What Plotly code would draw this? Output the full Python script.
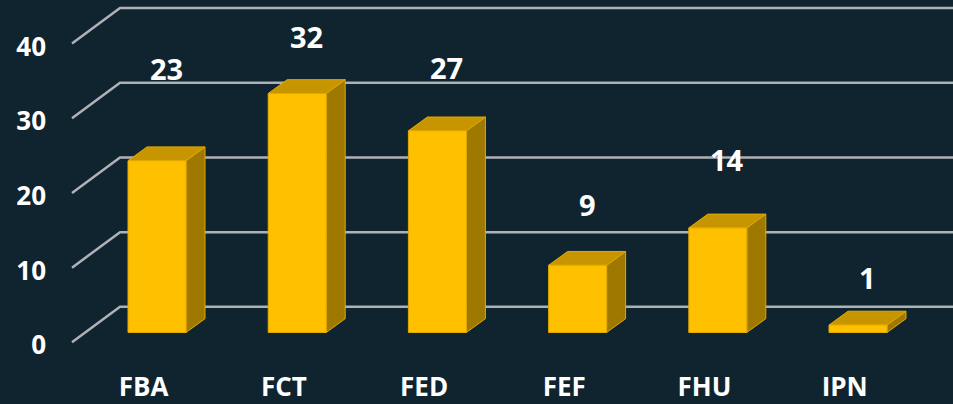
import plotly.graph_objects as go

# ---- data ----
categories = ["FBA", "FCT", "FED", "FEF", "FHU", "IPN"]
values = [23, 32, 27, 9, 14, 1]
y_ticks = [0, 10, 20, 30, 40]

# ---- style / geometry (pixels -> data units) ----
BG = "#10242F"
FRONT = "#FFC000"
TOP = "#C79500"
SIDE = "#9F7800"
EDGE = "#E2A900"
GRID = "#AEB2B6"
FONT = "Open Sans"

px_per_x = 140.2          # pixels per category step
px_per_v = 7.57           # pixels per value unit
bar_w = 58 / px_per_x     # front-face width
dx = 19 / px_per_x        # depth offset (x)
dy = 14 / px_per_v        # depth offset (value units)
grid_front_off = -10 / px_per_v
grid_back_off = 26 / px_per_v
grid_front_x = (72 - 157) / px_per_x
grid_back_x = (120 - 157) / px_per_x
tick_label_off = -3 / px_per_v
label_lift = [92, 57, 63, 61, 68, 48]   # value-label position above bar (px)

L, R, T, B = 47, 0, 0, 30
W, H = 953, 404
xmin = -(157 - L) / px_per_x
xmax = xmin + (W - L - R) / px_per_x
ymax = 337 / px_per_v
ymin = ymax - (H - T - B) / px_per_v

fig = go.Figure()

# gridlines (perspective floor/wall lines)
for t in y_ticks:
    fig.add_trace(go.Scatter(
        x=[grid_front_x, grid_back_x, xmax + 0.2],
        y=[t + grid_front_off, t + grid_back_off, t + grid_back_off],
        mode="lines", line=dict(color=GRID, width=2.5),
        hoverinfo="skip", showlegend=False))

# 3D bars
for i, v in enumerate(values):
    x0, x1 = i - bar_w / 2, i + bar_w / 2
    # side face
    fig.add_trace(go.Scatter(
        x=[x1, x1 + dx, x1 + dx, x1, x1],
        y=[0, dy, v + dy, v, 0],
        fill="toself", fillcolor=SIDE, mode="lines",
        line=dict(color=EDGE, width=1), hoverinfo="skip", showlegend=False))
    # top face
    fig.add_trace(go.Scatter(
        x=[x0, x1, x1 + dx, x0 + dx, x0],
        y=[v, v, v + dy, v + dy, v],
        fill="toself", fillcolor=TOP, mode="lines",
        line=dict(color=EDGE, width=1), hoverinfo="skip", showlegend=False))
    # front face
    fig.add_trace(go.Scatter(
        x=[x0, x1, x1, x0, x0],
        y=[0, 0, v, v, 0],
        fill="toself", fillcolor=FRONT, mode="lines",
        line=dict(color=EDGE, width=1), name=categories[i],
        hovertemplate=f"{categories[i]}: {v}<extra></extra>", showlegend=False))
    # value label
    fig.add_annotation(
        x=i + dx / 2, y=v, text=str(v), showarrow=False,
        yanchor="middle", xanchor="center", yshift=label_lift[i],
        font=dict(family=FONT, size=29, color="white", weight="bold"))

fig.update_layout(
    width=W, height=H,
    margin=dict(l=L, r=R, t=T, b=B, pad=0),
    paper_bgcolor=BG, plot_bgcolor=BG,
    showlegend=False,
    xaxis=dict(
        range=[xmin, xmax], showgrid=False, zeroline=False, showline=False,
        tickmode="array",
        tickvals=[i - 0.095 for i in range(len(categories))],
        ticktext=categories, ticks="",
        tickfont=dict(family=FONT, size=26, color="white", weight="bold"),
        fixedrange=True),
    yaxis=dict(
        range=[ymin, ymax], showgrid=False, zeroline=False, showline=False,
        tickmode="array",
        tickvals=[t + grid_front_off + tick_label_off for t in y_ticks],
        ticktext=[str(t) for t in y_ticks], ticks="",
        tickfont=dict(family=FONT, size=26, color="white", weight="bold"),
        fixedrange=True),
)

fig.write_html(
    "out.html",
    config={"displayModeBar": False},
    post_script="document.body.style.margin='0';document.body.style.overflow='hidden';",
)
